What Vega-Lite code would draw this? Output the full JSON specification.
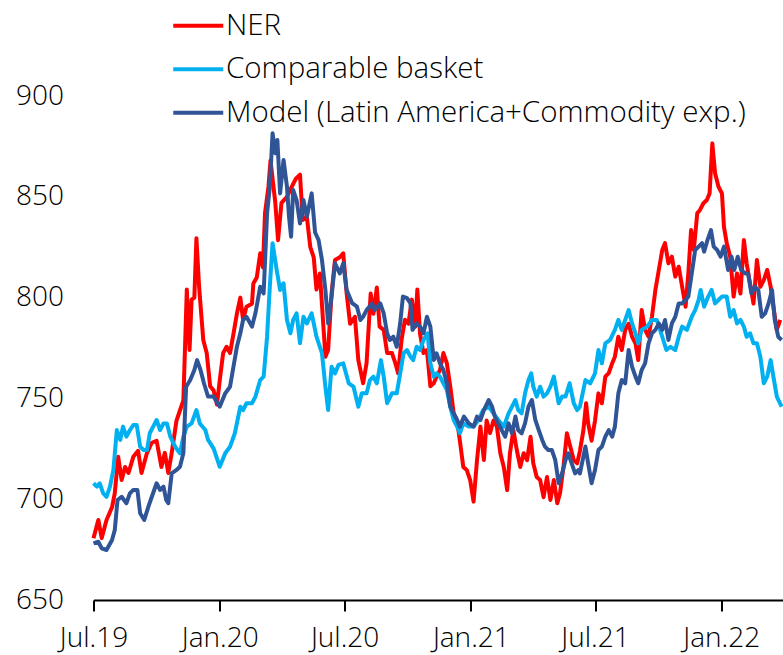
{
"$schema": "https://vega.github.io/schema/vega-lite/v6.json",
"width": 689.5,
"height": 504,
"autosize": {"type": "none"},
"padding": {"left": 93.5, "top": 96, "right": 0, "bottom": 55},
"background": "white",
"config": {"view": {"stroke": null}, "font": "Open Sans"},
"datasets": {
"ner": [
{"date":"2019-07-01","value":680.6},{"date":"2019-07-08","value":689.7},{"date":"2019-07-13","value":680.7},{"date":"2019-07-20","value":689.7},{"date":"2019-07-28","value":696},{"date":"2019-08-01","value":703},{"date":"2019-08-06","value":721},{"date":"2019-08-11","value":709.5},{"date":"2019-08-16","value":716},{"date":"2019-08-21","value":713},{"date":"2019-08-28","value":721},{"date":"2019-09-04","value":724},{"date":"2019-09-09","value":713},{"date":"2019-09-17","value":723},{"date":"2019-09-24","value":728},{"date":"2019-10-01","value":729},{"date":"2019-10-08","value":716},{"date":"2019-10-13","value":723},{"date":"2019-10-18","value":713},{"date":"2019-10-23","value":723},{"date":"2019-10-30","value":739},{"date":"2019-11-04","value":744},{"date":"2019-11-09","value":749},{"date":"2019-11-14","value":804},{"date":"2019-11-18","value":774},{"date":"2019-11-21","value":799},{"date":"2019-11-25","value":800},{"date":"2019-11-28","value":829.5},{"date":"2019-12-02","value":805},{"date":"2019-12-08","value":779},{"date":"2019-12-13","value":772.5},{"date":"2019-12-18","value":756},{"date":"2019-12-23","value":754},{"date":"2019-12-28","value":747},{"date":"2020-01-01","value":759},{"date":"2020-01-06","value":772.5},{"date":"2020-01-11","value":775.6},{"date":"2020-01-16","value":772.5},{"date":"2020-01-21","value":782},{"date":"2020-01-26","value":792},{"date":"2020-01-31","value":800},{"date":"2020-02-04","value":789},{"date":"2020-02-09","value":795.5},{"date":"2020-02-17","value":797},{"date":"2020-02-19","value":807},{"date":"2020-02-24","value":810},{"date":"2020-02-29","value":822},{"date":"2020-03-04","value":815},{"date":"2020-03-07","value":842},{"date":"2020-03-12","value":855},{"date":"2020-03-15","value":868},{"date":"2020-03-22","value":847},{"date":"2020-03-26","value":828.5},{"date":"2020-03-31","value":847},{"date":"2020-04-08","value":850},{"date":"2020-04-15","value":855},{"date":"2020-04-21","value":859},{"date":"2020-04-27","value":861},{"date":"2020-05-01","value":838.5},{"date":"2020-05-07","value":840},{"date":"2020-05-12","value":825},{"date":"2020-05-17","value":820},{"date":"2020-05-21","value":804},{"date":"2020-05-26","value":812},{"date":"2020-06-03","value":770.7},{"date":"2020-06-07","value":774},{"date":"2020-06-12","value":802},{"date":"2020-06-17","value":818.7},{"date":"2020-06-24","value":820},{"date":"2020-06-29","value":822},{"date":"2020-07-04","value":802},{"date":"2020-07-09","value":787},{"date":"2020-07-16","value":790.5},{"date":"2020-07-21","value":769},{"date":"2020-07-28","value":757.5},{"date":"2020-08-02","value":767.5},{"date":"2020-08-08","value":802},{"date":"2020-08-12","value":792},{"date":"2020-08-17","value":805},{"date":"2020-08-21","value":785.6},{"date":"2020-08-27","value":784},{"date":"2020-09-01","value":772.5},{"date":"2020-09-08","value":772.5},{"date":"2020-09-13","value":767.5},{"date":"2020-09-17","value":762.5},{"date":"2020-09-22","value":779},{"date":"2020-09-27","value":789},{"date":"2020-10-02","value":787},{"date":"2020-10-07","value":799},{"date":"2020-10-12","value":785.6},{"date":"2020-10-15","value":804},{"date":"2020-10-19","value":782},{"date":"2020-10-24","value":772.5},{"date":"2020-10-29","value":774},{"date":"2020-11-03","value":756},{"date":"2020-11-08","value":757.5},{"date":"2020-11-12","value":760.8},{"date":"2020-11-17","value":764},{"date":"2020-11-22","value":772.5},{"date":"2020-11-27","value":767.5},{"date":"2020-12-02","value":756},{"date":"2020-12-07","value":742.6},{"date":"2020-12-12","value":739},{"date":"2020-12-16","value":729},{"date":"2020-12-21","value":716},{"date":"2020-12-26","value":714.5},{"date":"2020-12-31","value":709.5},{"date":"2021-01-05","value":698.8},{"date":"2021-01-10","value":719.4},{"date":"2021-01-15","value":736},{"date":"2021-01-20","value":719.4},{"date":"2021-01-24","value":739},{"date":"2021-01-29","value":732.8},{"date":"2021-02-03","value":739},{"date":"2021-02-08","value":736},{"date":"2021-02-13","value":722.8},{"date":"2021-02-18","value":716},{"date":"2021-02-23","value":704.5},{"date":"2021-02-27","value":722.8},{"date":"2021-03-04","value":734.3},{"date":"2021-03-09","value":724.4},{"date":"2021-03-14","value":716},{"date":"2021-03-19","value":722.8},{"date":"2021-03-24","value":719.4},{"date":"2021-03-29","value":731},{"date":"2021-04-02","value":717.8},{"date":"2021-04-07","value":711},{"date":"2021-04-12","value":709.5},{"date":"2021-04-17","value":701},{"date":"2021-04-22","value":711},{"date":"2021-04-27","value":699.6},{"date":"2021-05-02","value":709.5},{"date":"2021-05-07","value":698},{"date":"2021-05-11","value":703},{"date":"2021-05-16","value":716},{"date":"2021-05-21","value":732.7},{"date":"2021-05-26","value":726},{"date":"2021-05-31","value":719.4},{"date":"2021-06-05","value":717.8},{"date":"2021-06-09","value":724},{"date":"2021-06-14","value":734},{"date":"2021-06-18","value":747.6},{"date":"2021-06-21","value":737.6},{"date":"2021-06-26","value":729},{"date":"2021-07-01","value":739},{"date":"2021-07-06","value":752.5},{"date":"2021-07-11","value":747.6},{"date":"2021-07-16","value":760.8},{"date":"2021-07-21","value":762.5},{"date":"2021-07-26","value":767.4},{"date":"2021-07-30","value":770.7},{"date":"2021-08-04","value":780.6},{"date":"2021-08-09","value":774},{"date":"2021-08-14","value":784},{"date":"2021-08-19","value":787},{"date":"2021-08-24","value":780.6},{"date":"2021-08-29","value":777.3},{"date":"2021-09-02","value":769},{"date":"2021-09-07","value":793.8},{"date":"2021-09-12","value":784},{"date":"2021-09-17","value":780.6},{"date":"2021-09-22","value":790.5},{"date":"2021-09-27","value":803.8},{"date":"2021-10-02","value":813.7},{"date":"2021-10-07","value":823.6},{"date":"2021-10-11","value":827},{"date":"2021-10-16","value":817},{"date":"2021-10-21","value":820.3},{"date":"2021-10-26","value":810.4},{"date":"2021-10-31","value":815.3},{"date":"2021-11-05","value":805.4},{"date":"2021-11-10","value":795.5},{"date":"2021-11-14","value":812},{"date":"2021-11-18","value":833.5},{"date":"2021-11-22","value":823.6},{"date":"2021-11-27","value":841.8},{"date":"2021-12-01","value":843.5},{"date":"2021-12-06","value":846.8},{"date":"2021-12-11","value":848.4},{"date":"2021-12-15","value":851.7},{"date":"2021-12-19","value":876.5},{"date":"2021-12-23","value":861.7},{"date":"2021-12-28","value":855},{"date":"2022-01-02","value":851.7},{"date":"2022-01-05","value":835},{"date":"2022-01-09","value":827},{"date":"2022-01-14","value":820.3},{"date":"2022-01-19","value":800.5},{"date":"2022-01-24","value":812},{"date":"2022-01-29","value":802},{"date":"2022-02-03","value":828.6},{"date":"2022-02-07","value":817},{"date":"2022-02-12","value":807},{"date":"2022-02-17","value":797},{"date":"2022-02-22","value":818.7},{"date":"2022-02-27","value":805.4},{"date":"2022-03-04","value":808.7},{"date":"2022-03-09","value":813.7},{"date":"2022-03-14","value":805.4},{"date":"2022-03-18","value":795.5},{"date":"2022-03-23","value":784},{"date":"2022-03-28","value":789}
],
"basket": [
{"date":"2019-07-01","value":707.9},{"date":"2019-07-06","value":706.2},{"date":"2019-07-10","value":707.9},{"date":"2019-07-15","value":703},{"date":"2019-07-20","value":701.2},{"date":"2019-07-25","value":706.2},{"date":"2019-07-30","value":714.5},{"date":"2019-08-04","value":734.3},{"date":"2019-08-09","value":729.4},{"date":"2019-08-13","value":736},{"date":"2019-08-18","value":731},{"date":"2019-08-23","value":734.3},{"date":"2019-08-28","value":736.8},{"date":"2019-09-02","value":736.8},{"date":"2019-09-07","value":726},{"date":"2019-09-12","value":724.4},{"date":"2019-09-17","value":724.4},{"date":"2019-09-21","value":732.7},{"date":"2019-09-26","value":736},{"date":"2019-10-01","value":739.3},{"date":"2019-10-06","value":734.3},{"date":"2019-10-11","value":737.6},{"date":"2019-10-16","value":737.6},{"date":"2019-10-21","value":731},{"date":"2019-10-28","value":726},{"date":"2019-11-04","value":722.8},{"date":"2019-11-09","value":731},{"date":"2019-11-14","value":736},{"date":"2019-11-21","value":737.6},{"date":"2019-11-28","value":744.2},{"date":"2019-12-03","value":737.6},{"date":"2019-12-11","value":734.3},{"date":"2019-12-15","value":729.4},{"date":"2019-12-23","value":725.2},{"date":"2020-01-01","value":716.1},{"date":"2020-01-09","value":722.8},{"date":"2020-01-16","value":726},{"date":"2020-01-23","value":732.7},{"date":"2020-01-31","value":745.9},{"date":"2020-02-04","value":744.2},{"date":"2020-02-09","value":747.6},{"date":"2020-02-17","value":747.6},{"date":"2020-02-22","value":750.9},{"date":"2020-02-29","value":759.1},{"date":"2020-03-05","value":760.8},{"date":"2020-03-10","value":780.6},{"date":"2020-03-14","value":805.4},{"date":"2020-03-18","value":827},{"date":"2020-03-24","value":813.7},{"date":"2020-03-29","value":803.8},{"date":"2020-04-03","value":807.1},{"date":"2020-04-08","value":788.9},{"date":"2020-04-13","value":782.3},{"date":"2020-04-17","value":788.9},{"date":"2020-04-22","value":792.2},{"date":"2020-04-27","value":777.3},{"date":"2020-05-02","value":790.5},{"date":"2020-05-07","value":787.2},{"date":"2020-05-14","value":792.2},{"date":"2020-05-21","value":780.6},{"date":"2020-05-29","value":772.4},{"date":"2020-06-03","value":755.8},{"date":"2020-06-07","value":744.2},{"date":"2020-06-12","value":765.7},{"date":"2020-06-17","value":762.4},{"date":"2020-06-22","value":766.6},{"date":"2020-06-29","value":767.4},{"date":"2020-07-07","value":757.5},{"date":"2020-07-14","value":755.8},{"date":"2020-07-21","value":745.9},{"date":"2020-07-26","value":752.5},{"date":"2020-08-02","value":752.5},{"date":"2020-08-07","value":759.1},{"date":"2020-08-12","value":760.8},{"date":"2020-08-17","value":757.5},{"date":"2020-08-23","value":769},{"date":"2020-08-27","value":760.8},{"date":"2020-09-01","value":747.6},{"date":"2020-09-08","value":752.5},{"date":"2020-09-15","value":752.5},{"date":"2020-09-20","value":762.4},{"date":"2020-09-25","value":772.4},{"date":"2020-09-30","value":774},{"date":"2020-10-05","value":770.7},{"date":"2020-10-09","value":769},{"date":"2020-10-14","value":775.6},{"date":"2020-10-19","value":774},{"date":"2020-10-24","value":779},{"date":"2020-10-30","value":782.3},{"date":"2020-11-03","value":767.4},{"date":"2020-11-08","value":760.8},{"date":"2020-11-12","value":762.4},{"date":"2020-11-17","value":760.8},{"date":"2020-11-22","value":757.5},{"date":"2020-11-27","value":754.2},{"date":"2020-12-02","value":745.9},{"date":"2020-12-07","value":739.3},{"date":"2020-12-12","value":736},{"date":"2020-12-16","value":732.7},{"date":"2020-12-21","value":737.6},{"date":"2020-12-29","value":736},{"date":"2021-01-05","value":736},{"date":"2021-01-12","value":739.3},{"date":"2021-01-19","value":744.2},{"date":"2021-01-27","value":745.9},{"date":"2021-02-03","value":742.6},{"date":"2021-02-10","value":739.3},{"date":"2021-02-18","value":736},{"date":"2021-02-25","value":742.6},{"date":"2021-03-02","value":745.9},{"date":"2021-03-07","value":749.2},{"date":"2021-03-11","value":744.2},{"date":"2021-03-16","value":742.6},{"date":"2021-03-21","value":752.5},{"date":"2021-03-26","value":759.1},{"date":"2021-03-30","value":762.4},{"date":"2021-04-02","value":755.8},{"date":"2021-04-07","value":750.9},{"date":"2021-04-12","value":755.8},{"date":"2021-04-17","value":750.9},{"date":"2021-04-22","value":752.5},{"date":"2021-04-27","value":755.8},{"date":"2021-05-02","value":760.8},{"date":"2021-05-09","value":747.6},{"date":"2021-05-14","value":750.9},{"date":"2021-05-19","value":750.9},{"date":"2021-05-25","value":757.5},{"date":"2021-05-31","value":747.6},{"date":"2021-06-05","value":744.2},{"date":"2021-06-09","value":745.9},{"date":"2021-06-17","value":759.1},{"date":"2021-06-24","value":757.5},{"date":"2021-07-01","value":762.4},{"date":"2021-07-06","value":774},{"date":"2021-07-11","value":767.4},{"date":"2021-07-16","value":777.3},{"date":"2021-07-23","value":779},{"date":"2021-07-30","value":784},{"date":"2021-08-04","value":788.9},{"date":"2021-08-09","value":784},{"date":"2021-08-14","value":788.9},{"date":"2021-08-19","value":793.8},{"date":"2021-08-24","value":787.2},{"date":"2021-08-29","value":782.3},{"date":"2021-09-02","value":777.3},{"date":"2021-09-07","value":784},{"date":"2021-09-15","value":785.6},{"date":"2021-09-22","value":788.9},{"date":"2021-09-29","value":788.9},{"date":"2021-10-07","value":780.6},{"date":"2021-10-13","value":774},{"date":"2021-10-19","value":775.6},{"date":"2021-10-26","value":774},{"date":"2021-10-31","value":780.6},{"date":"2021-11-05","value":785.6},{"date":"2021-11-12","value":784},{"date":"2021-11-19","value":790.5},{"date":"2021-11-24","value":793.8},{"date":"2021-11-29","value":798.8},{"date":"2021-12-02","value":803.8},{"date":"2021-12-07","value":795.5},{"date":"2021-12-13","value":800.5},{"date":"2021-12-18","value":803.8},{"date":"2021-12-23","value":797.1},{"date":"2021-12-28","value":798.8},{"date":"2022-01-02","value":800.5},{"date":"2022-01-09","value":800.5},{"date":"2022-01-14","value":790.5},{"date":"2022-01-19","value":793.8},{"date":"2022-01-24","value":787.2},{"date":"2022-01-29","value":788.9},{"date":"2022-02-03","value":785.6},{"date":"2022-02-07","value":780.6},{"date":"2022-02-12","value":782.3},{"date":"2022-02-17","value":777.3},{"date":"2022-02-22","value":777.3},{"date":"2022-02-27","value":770.7},{"date":"2022-03-04","value":757.5},{"date":"2022-03-09","value":760.8},{"date":"2022-03-14","value":769},{"date":"2022-03-18","value":760.8},{"date":"2022-03-23","value":750.9},{"date":"2022-03-30","value":745.9}
],
"model": [
{"date":"2019-07-01","value":678.1},{"date":"2019-07-08","value":678.9},{"date":"2019-07-13","value":675.6},{"date":"2019-07-20","value":674.8},{"date":"2019-07-28","value":679.8},{"date":"2019-08-01","value":684.7},{"date":"2019-08-05","value":699.6},{"date":"2019-08-11","value":701.2},{"date":"2019-08-18","value":698},{"date":"2019-08-23","value":702.9},{"date":"2019-08-28","value":704.6},{"date":"2019-09-03","value":704.6},{"date":"2019-09-07","value":693},{"date":"2019-09-13","value":689.7},{"date":"2019-09-19","value":696.3},{"date":"2019-09-24","value":701.2},{"date":"2019-10-01","value":707.9},{"date":"2019-10-06","value":704.6},{"date":"2019-10-11","value":706.2},{"date":"2019-10-15","value":699.6},{"date":"2019-10-18","value":698},{"date":"2019-10-23","value":712.8},{"date":"2019-10-30","value":714.5},{"date":"2019-11-04","value":716.1},{"date":"2019-11-09","value":722.8},{"date":"2019-11-13","value":755.8},{"date":"2019-11-19","value":759.1},{"date":"2019-11-25","value":764.1},{"date":"2019-11-29","value":769},{"date":"2019-12-04","value":764.1},{"date":"2019-12-09","value":757.5},{"date":"2019-12-15","value":750.9},{"date":"2019-12-23","value":750.9},{"date":"2020-01-01","value":745.9},{"date":"2020-01-09","value":752.5},{"date":"2020-01-16","value":755.8},{"date":"2020-01-21","value":765.7},{"date":"2020-01-26","value":775.6},{"date":"2020-01-31","value":782.3},{"date":"2020-02-04","value":788.9},{"date":"2020-02-09","value":790.5},{"date":"2020-02-17","value":785.6},{"date":"2020-02-22","value":792.2},{"date":"2020-02-29","value":805.4},{"date":"2020-03-05","value":802.1},{"date":"2020-03-10","value":841.8},{"date":"2020-03-14","value":855},{"date":"2020-03-18","value":881.5},{"date":"2020-03-22","value":871.6},{"date":"2020-03-25","value":878.2},{"date":"2020-03-29","value":851.7},{"date":"2020-04-03","value":868.3},{"date":"2020-04-08","value":855},{"date":"2020-04-11","value":840.1},{"date":"2020-04-14","value":830.2},{"date":"2020-04-17","value":853.4},{"date":"2020-04-22","value":848.4},{"date":"2020-04-27","value":836.8},{"date":"2020-05-02","value":848.4},{"date":"2020-05-07","value":840.1},{"date":"2020-05-14","value":851.7},{"date":"2020-05-19","value":832.3},{"date":"2020-05-24","value":828.6},{"date":"2020-05-29","value":818.7},{"date":"2020-06-03","value":803.8},{"date":"2020-06-07","value":787.2},{"date":"2020-06-12","value":800.5},{"date":"2020-06-17","value":817},{"date":"2020-06-24","value":812},{"date":"2020-06-29","value":817},{"date":"2020-07-04","value":803.8},{"date":"2020-07-12","value":797.2},{"date":"2020-07-19","value":795.5},{"date":"2020-07-24","value":788.9},{"date":"2020-07-28","value":790.5},{"date":"2020-08-02","value":793.8},{"date":"2020-08-10","value":797.1},{"date":"2020-08-14","value":793.8},{"date":"2020-08-22","value":797.1},{"date":"2020-08-27","value":792.2},{"date":"2020-09-01","value":782.3},{"date":"2020-09-05","value":779},{"date":"2020-09-10","value":780.6},{"date":"2020-09-15","value":775.6},{"date":"2020-09-20","value":787.2},{"date":"2020-09-24","value":800.5},{"date":"2020-09-30","value":799.7},{"date":"2020-10-05","value":797.1},{"date":"2020-10-08","value":784},{"date":"2020-10-14","value":787.2},{"date":"2020-10-19","value":785.6},{"date":"2020-10-24","value":782.3},{"date":"2020-10-29","value":790.5},{"date":"2020-11-03","value":785.6},{"date":"2020-11-08","value":769},{"date":"2020-11-12","value":772.4},{"date":"2020-11-17","value":767.4},{"date":"2020-11-22","value":764.1},{"date":"2020-11-27","value":757.5},{"date":"2020-12-02","value":745.9},{"date":"2020-12-07","value":742.6},{"date":"2020-12-12","value":739.3},{"date":"2020-12-16","value":736},{"date":"2020-12-22","value":741},{"date":"2020-12-29","value":737.6},{"date":"2021-01-05","value":736},{"date":"2021-01-10","value":741},{"date":"2021-01-15","value":739.3},{"date":"2021-01-20","value":744.2},{"date":"2021-01-27","value":749.2},{"date":"2021-02-01","value":745.9},{"date":"2021-02-05","value":741},{"date":"2021-02-10","value":737.6},{"date":"2021-02-15","value":734.3},{"date":"2021-02-20","value":731},{"date":"2021-02-25","value":737.6},{"date":"2021-03-02","value":732.7},{"date":"2021-03-07","value":741},{"date":"2021-03-11","value":734.3},{"date":"2021-03-16","value":732.7},{"date":"2021-03-21","value":737.6},{"date":"2021-03-26","value":745.9},{"date":"2021-03-31","value":749.2},{"date":"2021-04-05","value":739.3},{"date":"2021-04-10","value":734.3},{"date":"2021-04-15","value":729.4},{"date":"2021-04-19","value":726.1},{"date":"2021-04-24","value":724.4},{"date":"2021-04-29","value":724.4},{"date":"2021-05-04","value":719.5},{"date":"2021-05-09","value":707.9},{"date":"2021-05-14","value":712.8},{"date":"2021-05-19","value":719.5},{"date":"2021-05-23","value":722.8},{"date":"2021-05-28","value":717.8},{"date":"2021-06-02","value":712.8},{"date":"2021-06-07","value":714.5},{"date":"2021-06-09","value":712.8},{"date":"2021-06-17","value":726.1},{"date":"2021-06-21","value":717.8},{"date":"2021-06-26","value":707.9},{"date":"2021-07-01","value":714.5},{"date":"2021-07-06","value":724.4},{"date":"2021-07-11","value":726.1},{"date":"2021-07-16","value":731},{"date":"2021-07-21","value":734.3},{"date":"2021-07-26","value":731},{"date":"2021-07-30","value":736},{"date":"2021-08-04","value":752.5},{"date":"2021-08-09","value":759.1},{"date":"2021-08-14","value":757.5},{"date":"2021-08-19","value":774},{"date":"2021-08-24","value":765.7},{"date":"2021-08-29","value":760.8},{"date":"2021-09-02","value":757.5},{"date":"2021-09-07","value":764.1},{"date":"2021-09-12","value":767.4},{"date":"2021-09-17","value":777.3},{"date":"2021-09-22","value":782.3},{"date":"2021-09-27","value":784},{"date":"2021-10-02","value":787.2},{"date":"2021-10-07","value":784},{"date":"2021-10-11","value":788.9},{"date":"2021-10-16","value":779},{"date":"2021-10-21","value":787.2},{"date":"2021-10-26","value":790.5},{"date":"2021-10-31","value":797.1},{"date":"2021-11-05","value":797.1},{"date":"2021-11-10","value":798.8},{"date":"2021-11-14","value":800.5},{"date":"2021-11-19","value":812},{"date":"2021-11-24","value":823.6},{"date":"2021-11-29","value":825.3},{"date":"2021-12-04","value":827},{"date":"2021-12-07","value":822.8},{"date":"2021-12-12","value":828.6},{"date":"2021-12-17","value":833.5},{"date":"2021-12-21","value":825.3},{"date":"2021-12-26","value":823.6},{"date":"2021-12-31","value":820.3},{"date":"2022-01-05","value":825.3},{"date":"2022-01-11","value":813.7},{"date":"2022-01-16","value":820.3},{"date":"2022-01-20","value":813.7},{"date":"2022-01-25","value":820.3},{"date":"2022-01-30","value":813.7},{"date":"2022-02-05","value":812},{"date":"2022-02-09","value":812},{"date":"2022-02-14","value":802.1},{"date":"2022-02-19","value":805.4},{"date":"2022-02-24","value":803.8},{"date":"2022-03-01","value":790.5},{"date":"2022-03-06","value":792.2},{"date":"2022-03-11","value":797.1},{"date":"2022-03-16","value":803.8},{"date":"2022-03-20","value":788.9},{"date":"2022-03-25","value":780.6},{"date":"2022-03-30","value":779}
]
},
"encoding": {
"x": {"field": "date", "type": "temporal",
 "scale": {"type": "utc", "domain": [{"year": 2019, "month": 7, "date": 1, "utc": true}, {"year": 2022, "month": 4, "date": 1, "utc": true}]},
 "axis": {"title": null, "grid": false, "format": "%b.%y", "labelFlush": false, "labelOverlap": false,
  "values": [{"year": 2019, "month": 7, "date": 1, "utc": true}, {"year": 2020, "month": 1, "date": 1, "utc": true}, {"year": 2020, "month": 7, "date": 1, "utc": true}, {"year": 2021, "month": 1, "date": 1, "utc": true}, {"year": 2021, "month": 7, "date": 1, "utc": true}, {"year": 2022, "month": 1, "date": 1, "utc": true}],
  "domainColor": "#000000", "domainWidth": 2, "tickColor": "#000000", "tickWidth": 2, "tickSize": 11,
  "labelFontSize": 28, "labelFontWeight": 300, "labelColor": "#000000", "labelPadding": 13, "labelFont": "Open Sans"}},
"y": {"field": "value", "type": "quantitative",
 "scale": {"domain": [650, 900], "nice": false, "zero": false},
 "axis": {"title": null, "grid": false, "domain": false, "ticks": false, "tickSize": 0, "values": [650, 700, 750, 800, 850, 900],
  "labelFontSize": 28, "labelFontWeight": 300, "labelColor": "#000000", "labelPadding": 30, "labelFont": "Open Sans"}}
},
"layer": [
{"data": {"name": "ner"}, "mark": {"type": "line", "strokeWidth": 4, "strokeJoin": "round"},
 "encoding": {"color": {"datum": "NER", "type": "nominal",
  "scale": {"domain": ["NER", "Comparable basket", "Model (Latin America+Commodity exp.)"], "range": ["#FF0000", "#00B0F0", "#2F5597"]},
  "legend": {"title": null, "orient": "none", "legendX": 90, "legendY": -85, "padding": 0,
   "symbolType": "M-5,0H5", "symbolSize": 100, "symbolStrokeWidth": 4,
   "labelFontSize": 29.5, "labelFontWeight": 300, "labelFont": "Open Sans", "labelColor": "#000000", "labelLimit": 700, "labelOffset": 13, "rowPadding": 12.5}}}},
{"data": {"name": "basket"}, "mark": {"type": "line", "strokeWidth": 4, "strokeJoin": "round"},
 "encoding": {"color": {"datum": "Comparable basket", "type": "nominal"}}},
{"data": {"name": "model"}, "mark": {"type": "line", "strokeWidth": 4, "strokeJoin": "round"},
 "encoding": {"color": {"datum": "Model (Latin America+Commodity exp.)", "type": "nominal"}}}
]
}
